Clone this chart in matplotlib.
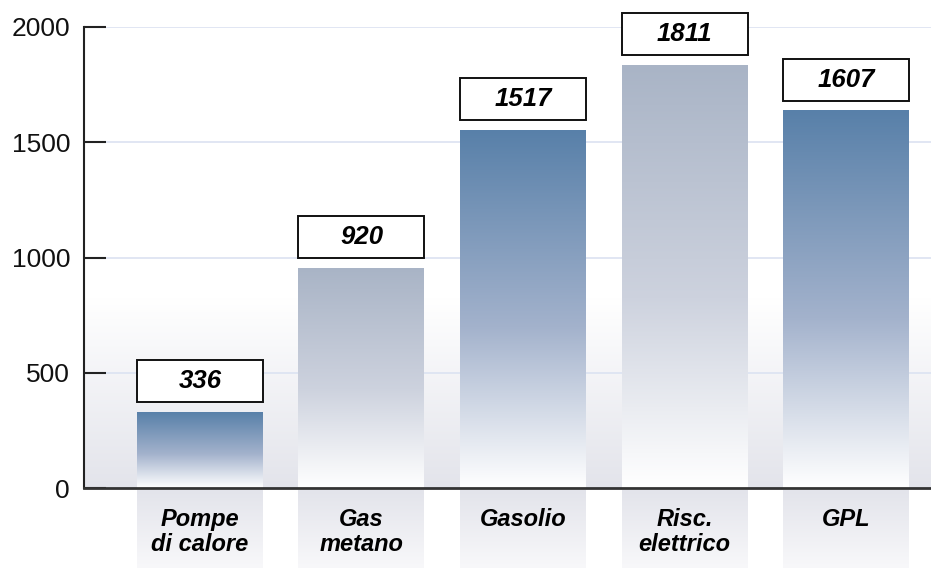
import numpy as np
import matplotlib
matplotlib.use("Agg")
import matplotlib.pyplot as plt
from matplotlib.colors import LinearSegmentedColormap
from matplotlib.patches import Rectangle

# dati
categorie = ["Pompe\ndi calore", "Gas\nmetano", "Gasolio", "Risc.\nelettrico", "GPL"]
altezze_barre = [327, 954, 1550, 1835, 1636]
etichette = ["336", "920", "1517", "1811", "1607"]
tick_y = [0, 500, 1000, 1500, 2000]

plt.rcParams['font.family'] = ['Liberation Sans', 'DejaVu Sans']

blu = LinearSegmentedColormap.from_list("blu", [(0, "#5880a9"), (0.55, "#a3b2cc"), (1, "#ffffff")])
grigio = LinearSegmentedColormap.from_list("grigio", [(0, "#a9b4c6"), (0.55, "#cdd2de"), (1, "#ffffff")])
sfondo = LinearSegmentedColormap.from_list("sfondo", ["#ffffff", "#e3e4eb"])
fondo_cat = LinearSegmentedColormap.from_list("fondo_cat", ["#e3e4eb", "#f8f8fa"])

fig = plt.figure(figsize=(9.31, 5.69), dpi=100)
ax = fig.add_axes([84 / 931, 1 - 488 / 569, 1 - 84 / 931, (488 - 27) / 569])

x = np.arange(len(categorie))
larghezza = 0.78

# sfondo sfumato in basso
grad = np.linspace(0, 1, 256).reshape(-1, 1)
ax.imshow(grad, cmap=sfondo, aspect="auto", extent=(-0.718, 4.526, 0, 820), zorder=0)

ax.set_yticks(tick_y)
ax.yaxis.grid(True, color="#dbe2f1", linewidth=1.2, zorder=0.5)
ax.set_axisbelow(True)

barre = ax.bar(x, altezze_barre, width=larghezza, color="none", zorder=2)

for i, b in enumerate(barre):
    x0, y0 = b.get_x(), b.get_y()
    w, h = b.get_width(), b.get_height()
    cmap = blu if i % 2 == 0 else grigio
    ax.imshow(grad, cmap=cmap, aspect="auto", extent=(x0, x0 + w, y0, y0 + h), zorder=2)

    # riquadro con il valore
    gap = 45
    alt = 182
    ax.add_patch(Rectangle((x0, h + gap), w, alt, facecolor="white",
                           edgecolor="#111111", linewidth=1.4, zorder=3, clip_on=False))
    ax.text(x0 + w / 2, h + gap + alt / 2, etichette[i], ha="center", va="center",
            fontsize=18.5, fontweight="bold", fontstyle="italic", zorder=4, clip_on=False)

    # fondo grigio dietro la categoria
    im = ax.imshow(grad, cmap=fondo_cat, aspect="auto",
                   extent=(x0, x0 + w, -347, -10), zorder=1)
    im.set_clip_on(False)
    ax.text(x0 + w / 2, -85, categorie[i], ha="center", va="top", fontsize=17,
            fontweight="bold", fontstyle="italic", linespacing=1.12, clip_on=False)

ax.set_xlim(-0.718, 4.526)
ax.set_ylim(0, 2000)
ax.set_xticks([])

ax.spines['top'].set_visible(False)
ax.spines['right'].set_visible(False)
ax.spines['left'].set_color("#222222")
ax.spines['left'].set_linewidth(1.5)
ax.spines['bottom'].set_color("#333333")
ax.spines['bottom'].set_linewidth(2)
ax.spines['bottom'].set_zorder(5)

ax.tick_params(axis='y', direction='in', length=16, width=1.5, color="#222222",
               pad=10, labelsize=19, labelcolor="#111111")

fig.savefig("out.png", dpi=100)
